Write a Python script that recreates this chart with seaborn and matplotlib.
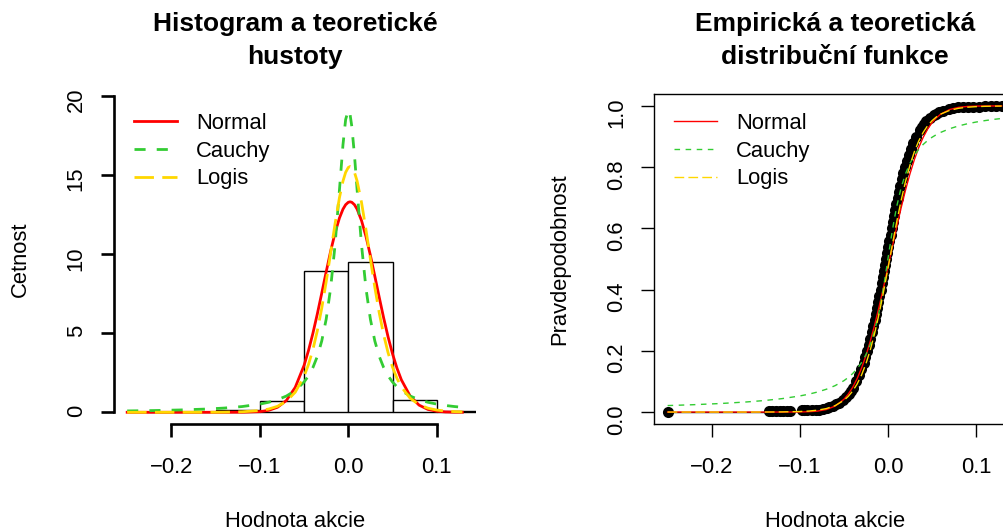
import matplotlib
matplotlib.use("Agg")
import matplotlib.pyplot as plt
import pandas as pd
import seaborn as sns

# ---------------- data ----------------
hist_edges = [-0.25, -0.20, -0.15, -0.10, -0.05, 0.00, 0.05, 0.10, 0.15]
hist_heights = [0.02, 0.00, 0.15, 0.70, 8.92, 9.47, 0.76, 0.10]

curve_x = [-0.25, -0.22, -0.19, -0.16, -0.14, -0.12,
           -0.10, -0.09, -0.08, -0.07, -0.06, -0.05,
           -0.045, -0.04, -0.035, -0.03, -0.025, -0.02,
           -0.015, -0.01, -0.006, -0.003, 0.0, 0.002,
           0.004, 0.007, 0.01, 0.015, 0.02, 0.025,
           0.03, 0.035, 0.04, 0.045, 0.05, 0.055,
           0.06, 0.07, 0.08, 0.09, 0.10, 0.11,
           0.12, 0.129]

pdf_normal = [0.0, 0.0, 0.0, 0.0, 0.0002, 0.0034,
              0.041, 0.121, 0.318, 0.746, 1.571, 2.961,
              3.898, 4.991, 6.215, 7.528, 8.870, 10.163,
              11.326, 12.276, 12.834, 13.115, 13.268, 13.298,
              13.268, 13.115, 12.834, 12.107, 11.108, 9.912,
              8.603, 7.262, 5.961, 4.761, 3.697, 2.793,
              2.052, 1.019, 0.453, 0.180, 0.064, 0.020,
              0.006, 0.002]

pdf_cauchy = [0.085, 0.109, 0.146, 0.205, 0.267, 0.362,
              0.516, 0.633, 0.795, 1.025, 1.368, 1.910,
              2.304, 2.826, 3.531, 4.505, 5.877, 7.827,
              10.551, 14.042, 16.906, 18.496, 19.095, 18.824,
              18.055, 16.233, 14.042, 10.551, 7.827, 5.877,
              4.505, 3.531, 2.826, 2.304, 1.910, 1.607,
              1.368, 1.025, 0.795, 0.633, 0.516, 0.429,
              0.362, 0.314]

pdf_logis = [0.0, 0.0001, 0.0004, 0.0027, 0.0092, 0.0318,
             0.110, 0.204, 0.377, 0.693, 1.266, 2.274,
             3.018, 3.966, 5.151, 6.581, 8.242, 10.059,
             11.893, 13.557, 14.608, 15.160, 15.468, 15.528,
             15.468, 15.160, 14.608, 13.248, 11.533, 9.686,
             7.895, 6.279, 4.896, 3.759, 2.854, 2.147,
             1.604, 0.883, 0.481, 0.260, 0.140, 0.076,
             0.041, 0.023]

cdf_normal = [0.0, 0.0, 0.0, 0.0, 0.0, 0.0,
              0.0003, 0.0011, 0.0031, 0.0082, 0.0194, 0.0415,
              0.0586, 0.0808, 0.1088, 0.1431, 0.1841, 0.2317,
              0.2855, 0.3446, 0.3949, 0.4338, 0.4734, 0.5,
              0.5266, 0.5662, 0.6051, 0.6676, 0.7257, 0.7784,
              0.8247, 0.8643, 0.8974, 0.9241, 0.9452, 0.9614,
              0.9734, 0.9883, 0.9953, 0.9983, 0.9995, 0.9998,
              1.0, 1.0]

cdf_cauchy = [0.0212, 0.0241, 0.0279, 0.0331, 0.0377, 0.0439,
              0.0526, 0.0583, 0.0654, 0.0744, 0.0862, 0.1024,
              0.1130, 0.1257, 0.1416, 0.1614, 0.1872, 0.2212,
              0.2668, 0.3280, 0.3901, 0.4433, 0.5, 0.5380,
              0.5750, 0.6265, 0.6720, 0.7332, 0.7788, 0.8128,
              0.8386, 0.8584, 0.8743, 0.8870, 0.8976, 0.9063,
              0.9138, 0.9256, 0.9346, 0.9417, 0.9474, 0.9521,
              0.9561, 0.9591]

cdf_logis = [0.0, 0.0, 0.0, 0.0, 0.0001, 0.0005,
             0.0018, 0.0033, 0.0061, 0.0113, 0.0208, 0.0381,
             0.0512, 0.0686, 0.0913, 0.1205, 0.1575, 0.2033,
             0.2581, 0.3218, 0.3783, 0.4230, 0.4690, 0.5,
             0.5310, 0.5770, 0.6217, 0.6916, 0.7536, 0.8067,
             0.8506, 0.8859, 0.9137, 0.9353, 0.9517, 0.9642,
             0.9735, 0.9856, 0.9922, 0.9958, 0.9977, 0.9988,
             0.9993, 0.9996]

ecdf_x = [-0.25, -0.135, -0.131, -0.127, -0.123, -0.119, -0.115, -0.111,
          -0.098, -0.095, -0.092, -0.086, -0.082, -0.078,
          -0.0732, -0.0697, -0.0669, -0.0623, -0.0588, -0.0559, -0.0513,
          -0.0476, -0.0447, -0.0421, -0.0399,
          -0.0361, -0.0329, -0.0301, -0.0277, -0.0255, -0.0235, -0.0216,
          -0.0199, -0.0182, -0.0166,
          -0.0151, -0.0137, -0.0123, -0.0109, -0.0096, -0.0083, -0.0070,
          -0.0057, -0.0045, -0.0032,
          -0.0020, -0.0008, 0.0005, 0.0017, 0.0030, 0.0043, 0.0056,
          0.0069, 0.0083, 0.0097,
          0.0111, 0.0126, 0.0142, 0.0159, 0.0176, 0.0195, 0.0215,
          0.0237, 0.0261, 0.0289,
          0.0321, 0.0359, 0.0381, 0.0407, 0.0436, 0.0473, 0.0519,
          0.0548, 0.0583, 0.0629,
          0.0692, 0.0737, 0.0800, 0.085, 0.091, 0.097, 0.103,
          0.110, 0.117, 0.123, 0.129]
ecdf_y = [0.001, 0.002, 0.003, 0.003, 0.004, 0.004, 0.005, 0.005,
          0.006, 0.006, 0.007, 0.007, 0.008, 0.008,
          0.010, 0.0125, 0.015, 0.020, 0.025, 0.030, 0.040,
          0.050, 0.060, 0.070, 0.080,
          0.10, 0.12, 0.14, 0.16, 0.18, 0.20, 0.22,
          0.24, 0.26, 0.28,
          0.30, 0.32, 0.34, 0.36, 0.38, 0.40, 0.42,
          0.44, 0.46, 0.48,
          0.50, 0.52, 0.54, 0.56, 0.58, 0.60, 0.62,
          0.64, 0.66, 0.68,
          0.70, 0.72, 0.74, 0.76, 0.78, 0.80, 0.82,
          0.84, 0.86, 0.88,
          0.90, 0.92, 0.93, 0.94, 0.95, 0.96, 0.97,
          0.975, 0.98, 0.985,
          0.99, 0.9925, 0.995, 0.996, 0.997, 0.9975, 0.998,
          0.9985, 0.999, 0.9995, 1.0]

x_ticks = [-0.2, -0.1, 0.0, 0.1]
x_tick_labels = ["\u22120.2", "\u22120.1", "0.0", "0.1"]
hist_y_ticks = [0, 5, 10, 15, 20]
hist_y_tick_labels = ["0", "5", "10", "15", "20"]
prob_y_ticks = [0.0, 0.2, 0.4, 0.6, 0.8, 1.0]
prob_y_tick_labels = ["0.0", "0.2", "0.4", "0.6", "0.8", "1.0"]
legend_labels = ["Normal", "Cauchy", "Logis"]

# ---------------- style ----------------
plt.rcParams['font.family'] = ['Liberation Sans', 'DejaVu Sans']
plt.rcParams['axes.unicode_minus'] = True
FS = 15.84
RED = "#FF0000"
GREEN = "#33CC33"
GOLD = "#FFD700"
DASH_C = (0, (4, 4))
DASH_L = (0, (7, 3))

fig = plt.figure(figsize=(10.04, 5.32), dpi=100)
axL = fig.add_axes([0.11335, 0.20244, 0.36076, 0.62143])
axR = fig.add_axes([0.65169, 0.20244, 0.35946, 0.62143])

curves = pd.DataFrame({"x": curve_x,
                       "pn": pdf_normal, "pc": pdf_cauchy, "pl": pdf_logis,
                       "cn": cdf_normal, "cc": cdf_cauchy, "cl": cdf_logis})

LEG_KW = dict(loc='upper left', frameon=False, fontsize=FS, borderpad=0,
              borderaxespad=0, handlelength=1.95, handletextpad=0.85,
              labelspacing=0.3)
TITLE_KW = dict(fontsize=19, fontweight='bold', y=1.2486, pad=0, va='top',
                linespacing=1.5)
XLAB_Y = -0.2925

# ---------------- left panel: histogram + densities ----------------
mids = [(a + b) / 2 for a, b in zip(hist_edges[:-1], hist_edges[1:])]
sns.histplot(x=mids, weights=hist_heights, bins=hist_edges, stat="count",
             color="white", edgecolor="black", linewidth=1.0, alpha=1.0,
             ax=axL)
sns.lineplot(data=curves, x="x", y="pn", color=RED, lw=2.0, ax=axL,
             estimator=None, sort=False, label=legend_labels[0])
sns.lineplot(data=curves, x="x", y="pc", color=GREEN, lw=2.0, ls=DASH_C,
             ax=axL, estimator=None, sort=False, label=legend_labels[1])
sns.lineplot(data=curves, x="x", y="pl", color=GOLD, lw=2.0, ls=DASH_L,
             ax=axL, estimator=None, sort=False, label=legend_labels[2])

axL.set_xlim(-0.2651, 0.1444)
axL.set_ylim(-0.76, 20.13)
axL.spines['top'].set_visible(False)
axL.spines['right'].set_visible(False)
axL.spines['left'].set_bounds(0, 20)
axL.spines['bottom'].set_bounds(-0.2, 0.1)
for s in ['left', 'bottom']:
    axL.spines[s].set_linewidth(1.9)
    axL.spines[s].set_color('black')
axL.set_xticks(x_ticks)
axL.set_xticklabels(x_tick_labels)
axL.set_yticks(hist_y_ticks)
axL.set_yticklabels(hist_y_tick_labels)
axL.tick_params(axis='both', direction='out', length=9.5, width=1.9,
                labelsize=FS, color='black')
axL.tick_params(axis='x', pad=14)
axL.tick_params(axis='y', pad=9.9, labelrotation=90)
axL.set_xlabel("Hodnota akcie", fontsize=FS, va='center')
axL.xaxis.set_label_coords(0.5, XLAB_Y)
axL.set_ylabel("Cetnost", fontsize=FS, va='center')
axL.yaxis.set_label_coords(-0.2576, 0.5)
axL.set_title("Histogram a teoretické\nhustoty", **TITLE_KW)
axL.legend(bbox_to_anchor=(0.0566, 0.9416), **LEG_KW)

# ---------------- right panel: ECDF + CDFs ----------------
sns.lineplot(x=ecdf_x, y=ecdf_y, drawstyle='steps-post', color='black',
             lw=1.0, estimator=None, sort=False, ax=axR)
sns.scatterplot(x=ecdf_x, y=ecdf_y, color='black', s=64, linewidth=0,
                ax=axR, zorder=2)
sns.lineplot(data=curves, x="x", y="cn", color=RED, lw=1.0, ax=axR,
             estimator=None, sort=False, label=legend_labels[0], zorder=3)
sns.lineplot(data=curves, x="x", y="cc", color=GREEN, lw=1.0, ls=DASH_C,
             ax=axR, estimator=None, sort=False, label=legend_labels[1],
             zorder=3)
sns.lineplot(data=curves, x="x", y="cl", color=GOLD, lw=1.0, ls=DASH_L,
             ax=axR, estimator=None, sort=False, label=legend_labels[2],
             zorder=3)

axR.set_xlim(-0.2651, 0.1444)
axR.set_ylim(-0.04, 1.04)
for s in axR.spines.values():
    s.set_linewidth(1.0)
    s.set_color('black')
axR.set_xticks(x_ticks)
axR.set_xticklabels(x_tick_labels)
axR.set_yticks(prob_y_ticks)
axR.set_yticklabels(prob_y_tick_labels)
axR.tick_params(axis='both', direction='out', length=9.5, width=1.0,
                labelsize=FS, color='black')
axR.tick_params(axis='x', pad=14)
axR.tick_params(axis='y', pad=9.9, labelrotation=90)
axR.set_xlabel("Hodnota akcie", fontsize=FS, va='center')
axR.xaxis.set_label_coords(0.5, XLAB_Y)
axR.set_ylabel("Pravdepodobnost", fontsize=FS, va='center')
axR.yaxis.set_label_coords(-0.2623, 0.5)
axR.set_title("Empirická a teoretická\ndistribuční funkce", **TITLE_KW)
axR.legend(bbox_to_anchor=(0.0554, 0.9416), **LEG_KW)

fig.savefig("out.png", dpi=100)
